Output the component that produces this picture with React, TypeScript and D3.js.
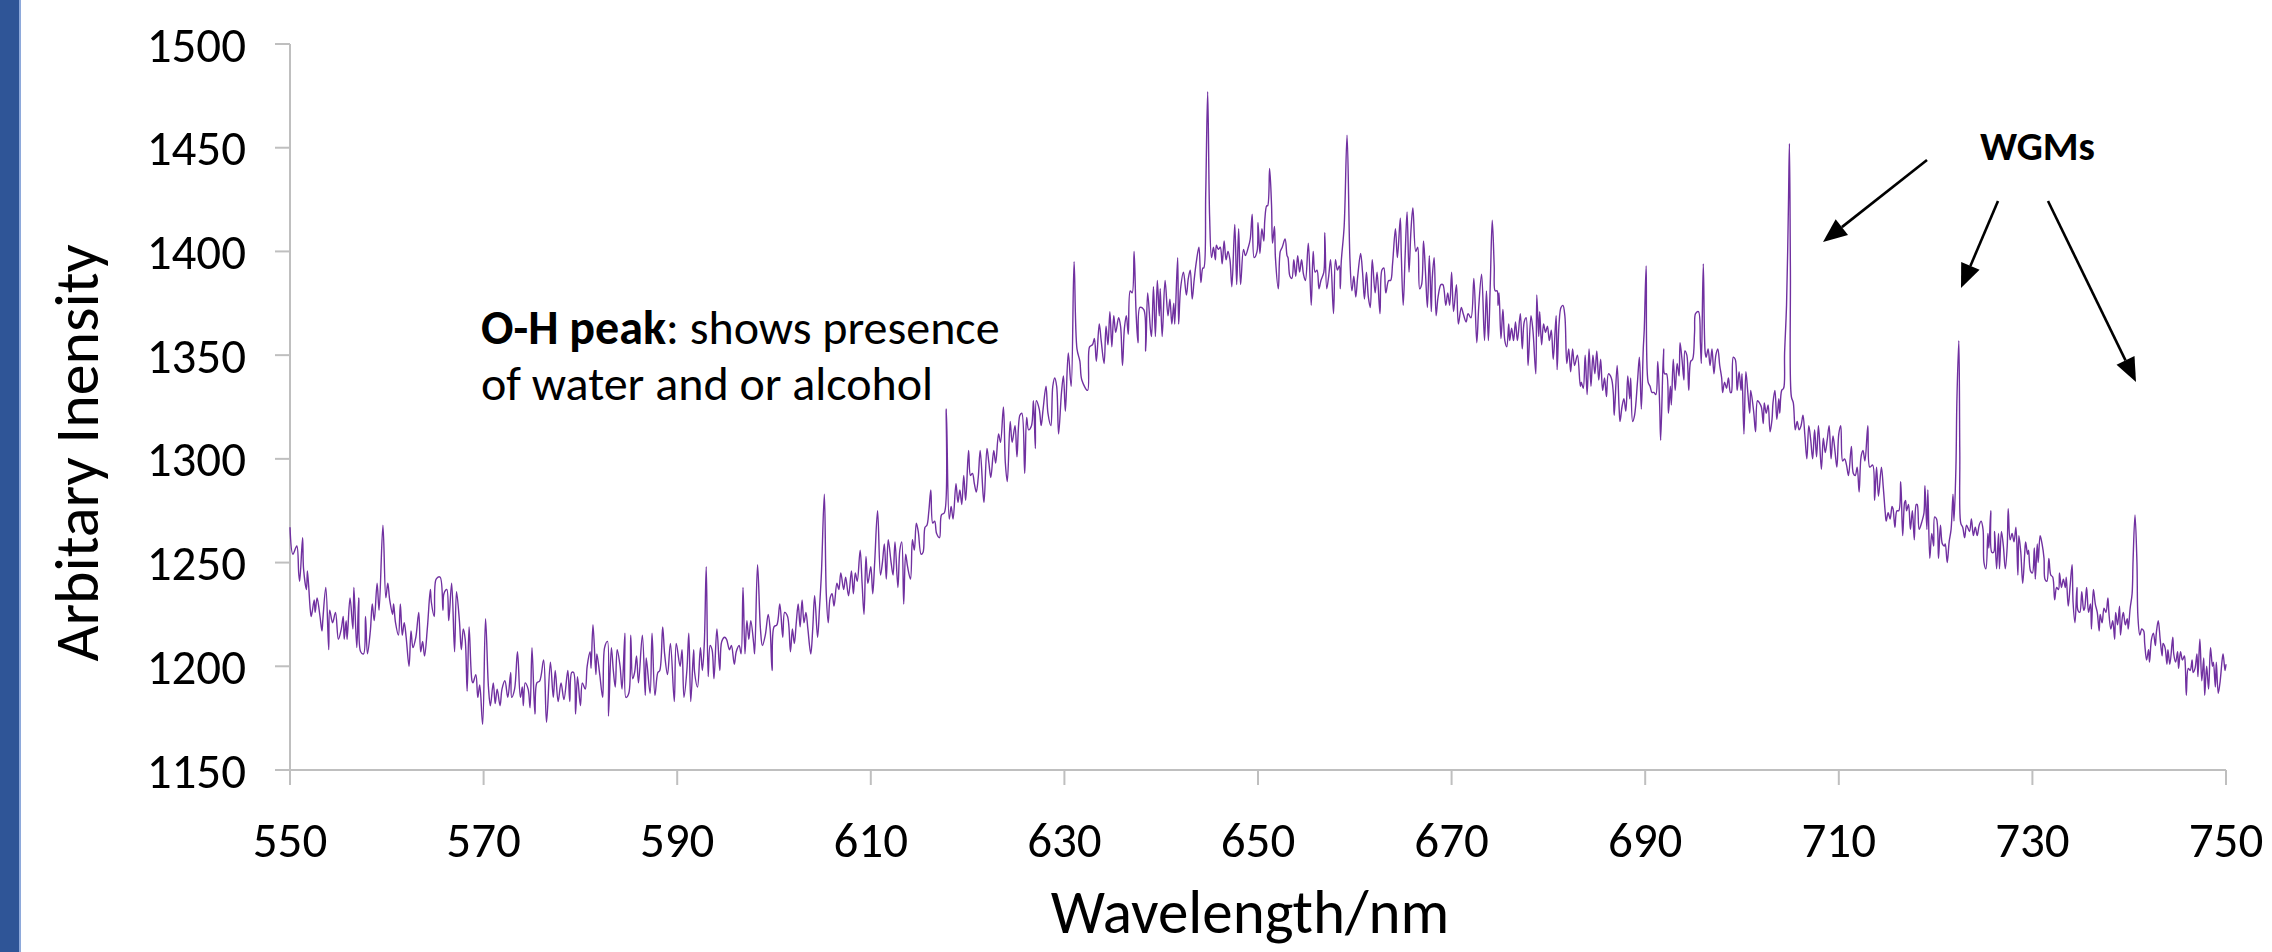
import React from 'react';
import * as d3 from 'd3';

// spectrum, [wavelength nm, intensity]
const band550: [number, number][] = [
  [550.0,1267],[550.3,1254],[550.7,1258],[550.9,1245],[551.0,1241],[551.3,1262],[551.4,1247],[551.7,1237],[551.8,1246],[552.1,1227],
  [552.2,1224],[552.5,1232],[552.6,1226],[552.8,1233],[553.1,1224],[553.3,1217],[553.4,1223],[553.7,1238],[554.0,1208],[554.1,1227],
  [554.4,1221],[554.7,1226],[555.0,1213],[555.3,1218],[555.5,1224],[555.6,1213],[555.8,1222],[555.9,1213],[556.2,1233],[556.5,1218],
  [556.6,1238],[556.9,1209],[557.1,1233],[557.3,1207],[557.6,1206],[557.8,1224],[558.0,1206],[558.3,1217],[558.5,1230],[558.7,1222],
  [559.0,1240],[559.2,1227],[559.6,1268],[559.9,1233],[560.1,1240],[560.3,1232],[560.6,1225],[560.7,1230],[560.9,1221],[561.2,1215],
  [561.4,1230],[561.6,1215],[561.8,1221],[562.0,1214],[562.3,1200],[562.5,1217],[562.7,1209],[563.0,1214],[563.3,1226],[563.5,1207],
  [563.7,1212],[563.9,1205],[564.2,1219],[564.5,1237],[564.6,1231],[564.9,1224],[565.1,1242],[565.5,1243],[565.8,1227],[565.9,1235],
  [566.2,1237],[566.4,1222],[566.7,1240],[567.0,1207],[567.2,1236],[567.5,1222],[567.7,1208],[567.9,1218],[568.1,1213],[568.3,1188],
  [568.5,1219],[568.8,1193],[568.9,1192],[569.2,1196],[569.4,1185],[569.6,1191],[569.9,1172],[570.2,1223],[570.5,1190],[570.7,1181],
  [571.0,1192],[571.2,1182],[571.4,1189],[571.7,1181],[571.9,1189],[572.2,1193],[572.5,1185],[572.8,1197],[572.9,1185],[573.2,1189],
  [573.5,1207],[573.8,1185],[574.0,1190],[574.1,1181],[574.3,1192],[574.6,1189],[574.8,1180],[575.0,1209],[575.3,1177],[575.5,1192],
  [575.8,1193],[576.2,1203],[576.5,1173],[576.9,1202],[577.2,1185],[577.4,1198],[577.7,1183],[578.0,1192],[578.3,1184],[578.7,1198],
  [578.9,1183],[579.1,1197],[579.3,1197],[579.5,1177],[579.7,1195],[580.0,1181],[580.2,1192],[580.5,1189],[580.7,1200],[581.0,1207],
  [581.1,1199],[581.3,1220],[581.6,1196],[581.7,1206],[582.0,1196],[582.3,1185],[582.5,1209],[582.8,1212],[582.9,1176],[583.2,1209],
  [583.4,1198],[583.6,1190],[583.8,1208],[584.1,1200],[584.3,1189],[584.6,1216],[584.7,1185],[585.0,1187],[585.2,1215],[585.4,1194],
  [585.6,1197],[585.8,1205],[586.0,1192],[586.4,1215],[586.7,1186],[586.8,1204],[587.2,1187],[587.4,1216],[587.7,1186],[588.0,1197],
  [588.2,1198],[588.5,1219],[588.7,1206],[589.0,1196],[589.3,1211],[589.7,1183],[589.9,1211],[590.3,1200],[590.5,1208],[590.7,1185],
];

const band591: [number, number][] = [
  [591.0,1198],[591.2,1216],[591.4,1183],[591.7,1208],[591.8,1197],[592.1,1190],[592.4,1209],[592.6,1198],[592.8,1211],[593.0,1248],
  [593.2,1195],[593.4,1210],[593.6,1208],[593.8,1194],[594.1,1218],[594.4,1198],[594.6,1212],[594.9,1214],[595.1,1213],[595.4,1208],
  [595.6,1210],[595.9,1201],[596.1,1207],[596.4,1210],[596.6,1206],[596.8,1238],[597.0,1206],[597.2,1222],[597.4,1213],[597.6,1222],
  [597.9,1211],[598.0,1206],[598.3,1249],[598.6,1218],[598.8,1210],[599.1,1215],[599.4,1225],[599.6,1218],[599.8,1198],[600.0,1219],
  [600.3,1220],[600.6,1230],[600.9,1214],[601.1,1226],[601.4,1224],[601.7,1207],[601.9,1218],[602.1,1211],[602.3,1221],[602.5,1230],
  [602.7,1219],[602.9,1232],[603.1,1221],[603.3,1226],[603.5,1218],[603.8,1206],[604.0,1218],[604.2,1234],[604.5,1214],[604.7,1228],
  [604.9,1245],[605.2,1283],[605.4,1235],[605.6,1221],[605.8,1233],[606.0,1235],[606.2,1229],[606.5,1240],[606.7,1237],[606.9,1245],
  [607.2,1237],[607.4,1243],[607.7,1234],[608.0,1246],[608.2,1235],[608.4,1245],[608.6,1241],[608.9,1256],[609.1,1240],[609.3,1225],
  [609.5,1253],[609.7,1240],[610.0,1248],[610.2,1235],[610.4,1250],[610.7,1275],[611.0,1244],[611.2,1250],[611.4,1259],[611.6,1242],
  [611.8,1261],[612.1,1250],[612.3,1244],[612.5,1260],[612.8,1238],[613.0,1256],[613.2,1260],[613.4,1230],[613.6,1254],[613.8,1248],
  [614.1,1242],[614.3,1261],[614.5,1256],[614.7,1269],[614.9,1265],[615.2,1254],[615.4,1255],[615.6,1267],[615.8,1268],[616.0,1275],
  [616.2,1285],[616.4,1269],[616.6,1270],[616.8,1264],[617.1,1262],[617.3,1273],[617.6,1274],[617.8,1324],[618.1,1271],[618.3,1277],
  [618.5,1271],[618.8,1288],[619.0,1279],[619.2,1285],[619.4,1278],[619.6,1292],[619.8,1280],[620.1,1304],[620.3,1292],[620.5,1293],
  [620.7,1288],[620.9,1284],[621.1,1291],[621.3,1304],[621.6,1283],[621.7,1279],[622.0,1305],[622.2,1298],[622.4,1291],[622.7,1304],
  [622.9,1298],[623.2,1312],[623.4,1308],[623.7,1325],[623.9,1298],[624.1,1289],[624.4,1318],[624.6,1308],[624.9,1316],[625.1,1301],
  [625.4,1321],[625.6,1322],[625.9,1293],[626.1,1320],[626.3,1314],[626.6,1316],[626.8,1328],[627.0,1305],[627.1,1328],[627.4,1324],
  [627.6,1316],[627.8,1324],[628.1,1335],[628.3,1322],[628.6,1316],[628.8,1335],[629.0,1339],[629.2,1335],[629.4,1312],[629.7,1332],
  [629.9,1340],[630.1,1323],[630.4,1351],[630.7,1335],[631.0,1395],[631.3,1353],[631.6,1347],[631.8,1338],
];

const band632: [number, number][] = [
  [632.4,1333],[632.6,1354],[632.9,1355],[633.1,1358],[633.3,1347],[633.6,1365],[633.8,1357],[634.1,1346],[634.3,1364],[634.5,1355],
  [634.7,1371],[634.9,1354],[635.1,1369],[635.3,1361],[635.6,1368],[635.8,1364],[636.0,1345],[636.2,1363],[636.4,1369],[636.6,1360],
  [636.8,1381],[637.0,1380],[637.2,1400],[637.4,1371],[637.6,1356],[637.8,1373],[638.2,1372],[638.4,1352],[638.6,1380],[638.9,1362],
  [639.0,1359],[639.2,1383],[639.4,1359],[639.6,1386],[639.8,1369],[639.9,1382],[640.1,1359],[640.4,1386],[640.7,1369],[640.9,1377],
  [641.1,1365],[641.3,1375],[641.4,1365],[641.7,1397],[641.8,1365],[642.0,1382],[642.3,1390],[642.6,1379],[642.8,1387],[643.0,1391],
  [643.2,1377],[643.4,1386],[643.6,1394],[643.9,1402],[644.1,1385],[644.3,1392],[644.4,1392],[644.6,1428],[644.8,1477],[645.0,1417],
  [645.2,1397],[645.4,1402],[645.6,1396],[645.7,1403],[645.9,1401],[646.1,1402],[646.3,1394],[646.5,1405],[646.7,1396],[646.9,1400],
  [647.1,1396],[647.3,1383],[647.6,1413],[647.8,1384],[648.0,1411],[648.2,1384],[648.5,1401],[648.7,1398],[649.0,1402],[649.2,1406],
  [649.4,1418],[649.6,1397],[649.9,1400],[650.0,1414],[650.2,1399],[650.4,1411],[650.6,1405],[650.7,1415],[650.9,1422],[651.0,1422],
  [651.2,1440],[651.4,1422],[651.5,1404],[651.7,1412],[651.8,1397],[652.1,1382],[652.3,1400],[652.5,1402],[652.8,1406],[653.0,1398],
  [653.1,1397],[653.3,1388],[653.5,1387],[653.7,1396],[653.9,1388],[654.1,1398],[654.3,1390],[654.5,1396],[654.7,1389],[654.9,1386],
  [655.2,1404],[655.5,1374],[655.7,1400],[655.9,1390],[656.1,1391],[656.3,1382],[656.5,1386],[656.8,1390],[656.9,1409],[657.1,1382],
  [657.3,1388],[657.5,1396],[657.8,1370],[658.0,1396],[658.2,1391],[658.4,1393],[658.5,1382],[658.6,1395],[658.9,1412],[659.2,1456],
  [659.5,1396],[659.7,1381],[659.9,1388],[660.1,1378],[660.3,1388],[660.6,1399],[660.8,1390],[661.0,1377],[661.2,1390],[661.4,1378],
  [661.6,1373],[661.8,1396],[662.1,1380],[662.3,1390],[662.6,1370],[662.8,1391],[663.0,1392],[663.2,1380],[663.5,1386],[663.7,1386],
  [663.9,1394],[664.2,1411],[664.4,1397],[664.7,1416],[664.8,1399],[665.0,1374],[665.2,1398],[665.4,1419],[665.6,1390],[665.8,1410],
  [666.0,1421],[666.3,1400],[666.5,1402],[666.7,1382],[666.9,1384],[667.1,1405],[667.3,1390],[667.5,1373],[667.7,1398],[667.9,1371],
  [668.0,1387],[668.2,1397],[668.4,1369],[668.6,1378],[668.9,1384],[669.1,1384],[669.4,1374],[669.6,1380],[669.8,1374],[670.0,1390],
  [670.2,1371],[670.5,1384],[670.7,1365],[671.0,1373],[671.2,1370],[671.5,1366],[671.7,1370],[672.0,1368],[672.3,1387],[672.6,1356],
  [672.8,1373],[673.1,1389],[673.4,1357],
];

const band674: [number, number][] = [
  [673.6,1381],[673.8,1357],[674.0,1385],[674.2,1415],[674.4,1393],[674.5,1381],[674.7,1381],[674.8,1374],[674.9,1380],[675.1,1358],
  [675.3,1372],[675.5,1357],[675.7,1354],[675.9,1365],[676.0,1357],[676.2,1363],[676.4,1357],[676.6,1366],[676.8,1357],[677.1,1370],
  [677.3,1353],[677.5,1366],[677.7,1368],[677.9,1345],[678.2,1369],[678.4,1362],[678.7,1341],[678.8,1379],[679.0,1359],[679.1,1371],
  [679.3,1355],[679.5,1365],[679.7,1361],[679.9,1364],[680.1,1357],[680.3,1362],[680.5,1348],[680.8,1369],[680.9,1343],[681.1,1365],
  [681.3,1373],[681.5,1374],[681.7,1369],[681.9,1346],[682.1,1353],[682.3,1342],[682.5,1353],[682.7,1345],[683.0,1350],[683.3,1335],
  [683.4,1337],[683.6,1334],[683.8,1350],[684.0,1331],[684.2,1353],[684.4,1335],[684.6,1350],[684.8,1341],[685.0,1352],[685.2,1338],
  [685.4,1348],[685.6,1333],[685.8,1339],[686.0,1330],[686.2,1341],[686.5,1339],[686.7,1332],[686.8,1321],[687.1,1345],[687.3,1325],
  [687.4,1318],[687.6,1325],[687.8,1329],[688.0,1323],[688.2,1340],[688.4,1329],[688.5,1339],[688.7,1318],[688.9,1321],[689.2,1337],
  [689.4,1349],[689.6,1324],[689.8,1353],[689.9,1362],[690.1,1393],[690.3,1337],[690.5,1335],[690.7,1332],[690.9,1332],[691.1,1331],
  [691.3,1347],[691.5,1325],[691.6,1309],[691.9,1353],[692.0,1341],[692.2,1341],[692.4,1322],[692.6,1335],[692.7,1326],[692.9,1348],
  [693.1,1333],[693.3,1346],[693.5,1340],[693.6,1356],[693.8,1348],[694.0,1338],[694.1,1352],[694.3,1350],[694.5,1333],[694.7,1347],
  [694.9,1348],[695.1,1361],[695.2,1370],[695.5,1371],[695.7,1356],[695.8,1346],[696.0,1394],[696.2,1351],[696.3,1349],[696.5,1353],
  [696.7,1345],[696.9,1353],[697.1,1341],[697.3,1350],[697.5,1353],[697.7,1345],[697.9,1339],[698.0,1332],[698.2,1337],[698.4,1334],
  [698.6,1339],[698.8,1332],[698.9,1332],[699.1,1349],[699.3,1348],[699.5,1333],[699.7,1342],[699.9,1333],[700.0,1341],[700.2,1312],
  [700.4,1342],[700.6,1332],[700.8,1322],[700.9,1333],[701.2,1323],[701.4,1313],[701.6,1328],[701.8,1327],[702.0,1325],[702.2,1317],
  [702.3,1327],[702.5,1322],[702.7,1326],[702.9,1313],[703.1,1319],[703.2,1327],[703.4,1333],[703.6,1319],[703.8,1329],[703.9,1322],
  [704.1,1333],[704.3,1334],[704.4,1351],[704.6,1374],[704.8,1423],[704.9,1452],[705.0,1391],[705.1,1330],[705.3,1327],[705.5,1314],
  [705.7,1318],[705.9,1314],[706.1,1316],[706.3,1321],[706.5,1311],[706.7,1300],[706.9,1316],[707.1,1309],[707.3,1300],[707.5,1314],
  [707.7,1301],[707.9,1316],[708.2,1295],[708.4,1310],[708.6,1303],[708.8,1309],[709.0,1316],[709.2,1300],[709.4,1311],[709.6,1304],
  [709.8,1296],[710.0,1312],[710.2,1316],[710.4,1299],[710.6,1300],[710.8,1297],[711.0,1292],[711.3,1306],[711.5,1293],[711.7,1292],
  [711.9,1296],[712.1,1284],[712.3,1301],[712.5,1304],[712.7,1299],[713.0,1316],[713.2,1296],[713.5,1297],[713.7,1280],[713.9,1296],
  [714.1,1282],[714.4,1296],[714.6,1286],
];

const band715: [number, number][] = [
  [714.8,1274],[714.9,1270],[715.1,1274],[715.3,1271],[715.5,1277],[715.6,1276],[715.8,1267],[716.0,1275],[716.2,1275],[716.4,1289],
  [716.6,1263],[716.8,1279],[716.9,1280],[717.0,1275],[717.2,1278],[717.4,1266],[717.6,1275],[717.8,1261],[718.0,1278],[718.1,1278],
  [718.3,1266],[718.6,1270],[718.8,1274],[718.9,1287],[719.1,1266],[719.2,1285],[719.4,1252],[719.6,1264],[719.8,1258],[719.9,1272],
  [720.1,1271],[720.3,1252],[720.5,1268],[720.7,1259],[720.9,1258],[721.0,1259],[721.2,1250],[721.4,1260],[721.6,1266],[721.8,1283],
  [721.9,1270],[722.1,1296],[722.2,1328],[722.4,1357],[722.5,1303],[722.6,1269],[722.8,1267],[723.0,1262],[723.2,1268],[723.5,1265],
  [723.7,1271],[723.9,1263],[724.1,1267],[724.3,1263],[724.5,1268],[724.7,1270],[724.9,1266],[725.0,1250],[725.2,1247],[725.4,1264],
  [725.5,1257],[725.7,1275],[725.8,1255],[726.0,1255],[726.1,1265],[726.3,1247],[726.5,1264],[726.6,1247],[726.8,1265],[727.0,1258],
  [727.2,1247],[727.4,1258],[727.5,1276],[727.7,1261],[727.9,1264],[728.1,1260],[728.3,1267],[728.5,1244],[728.6,1263],[728.8,1255],
  [729.0,1240],[729.2,1254],[729.3,1260],[729.5,1254],[729.6,1256],[729.8,1246],[730.0,1245],[730.2,1257],[730.3,1242],[730.5,1259],
  [730.6,1250],[730.8,1263],[731.0,1259],[731.2,1252],[731.3,1242],[731.5,1241],[731.7,1252],[731.9,1244],[732.1,1243],[732.3,1232],
  [732.5,1238],[732.7,1237],[732.8,1245],[733.0,1238],[733.2,1242],[733.4,1238],[733.5,1243],[733.7,1229],[733.9,1239],[734.1,1249],
  [734.2,1231],[734.4,1221],[734.6,1238],[734.7,1227],[734.9,1226],[735.1,1236],[735.3,1227],[735.4,1228],[735.6,1238],[735.8,1226],
  [736.0,1230],[736.1,1218],[736.3,1237],[736.5,1230],[736.7,1226],[736.9,1217],[737.0,1225],[737.2,1221],[737.4,1228],[737.6,1226],
  [737.8,1233],[737.9,1226],[738.1,1218],[738.3,1222],[738.5,1213],[738.6,1226],[738.8,1220],[739.0,1229],[739.1,1215],[739.3,1224],
  [739.4,1226],[739.6,1220],[739.8,1223],[739.9,1218],[740.1,1228],[740.3,1235],[740.4,1251],[740.6,1273],[740.8,1250],[740.9,1224],
  [741.1,1215],[741.3,1218],[741.5,1217],[741.6,1211],[741.8,1203],[742.0,1208],[742.1,1202],[742.3,1213],[742.5,1216],[742.7,1210],
  [742.8,1216],[743.0,1222],[743.2,1213],[743.4,1205],[743.5,1211],[743.7,1209],[743.9,1201],[744.0,1208],[744.2,1201],[744.5,1214],
  [744.6,1206],[744.8,1202],[745.0,1207],[745.1,1199],[745.3,1207],[745.5,1203],[745.7,1205],[745.8,1200],[745.9,1186],[746.1,1199],
  [746.3,1198],[746.5,1203],[746.6,1197],[746.8,1199],[747.0,1206],[747.1,1195],[747.3,1213],[747.5,1193],[747.7,1204],[747.8,1186],
  [748.0,1200],[748.2,1189],[748.4,1209],[748.6,1200],[748.7,1202],[748.9,1190],[749.0,1202],[749.2,1187],[749.4,1193],[749.6,1203],
  [749.7,1206],[749.9,1198],[750.0,1201],
];

const xTicks = [550, 570, 590, 610, 630, 650, 670, 690, 710, 730, 750];
const yTicks = [1150, 1200, 1250, 1300, 1350, 1400, 1450, 1500];

const xTitle = 'Wavelength/nm';
const yTitle = 'Arbitary Inensity';
const noteBold = 'O-H peak';
const noteRest = ': shows presence';
const noteLine2 = 'of water and or alcohol';
const wgmLabel = 'WGMs';

const W = 2272;
const H = 952;
const FONT = 'Calibri, Carlito, Lato, sans-serif';
const AXIS = '#bfbfbf';

const arrows = [
  { x1: 1927, y1: 160, x2: 1823, y2: 242 },
  { x1: 1998, y1: 201, x2: 1961, y2: 288 },
  { x1: 2048, y1: 201, x2: 2136, y2: 382 },
];

function Arrow({ x1, y1, x2, y2 }: { x1: number; y1: number; x2: number; y2: number }) {
  const ang = Math.atan2(y2 - y1, x2 - x1);
  const len = 24, half = 10;
  const bx = x2 - len * Math.cos(ang), by = y2 - len * Math.sin(ang);
  const px = -Math.sin(ang) * half, py = Math.cos(ang) * half;
  return (
    <g>
      <line x1={x1} y1={y1} x2={bx} y2={by} stroke="#000" strokeWidth={2.6} />
      <polygon points={`${x2},${y2} ${bx + px},${by + py} ${bx - px},${by - py}`} fill="#000" />
    </g>
  );
}

export default function App() {
  const data = [...band550, ...band591, ...band632, ...band674, ...band715];

  const x = d3.scaleLinear().domain([550, 750]).range([290, 2226]);
  const y = d3.scaleLinear().domain([1150, 1500]).range([770, 44]);

  const line = d3
    .line<[number, number]>()
    .x(d => x(d[0]))
    .y(d => y(d[1]))
    .curve(d3.curveCatmullRom.alpha(0.5));

  return (
    <svg
      width={W}
      height={H}
      style={{ position: 'absolute', left: 0, top: 0, display: 'block', background: '#fff' }}
      fontFamily={FONT}
    >
      <rect x={0} y={0} width={19} height={H} fill="#2f5597" />
      <rect x={19} y={0} width={2} height={H} fill="#8ea9db" />

      {/* axes */}
      <line x1={x(550)} x2={x(550)} y1={y(1500)} y2={y(1150)} stroke={AXIS} strokeWidth={2} />
      <line x1={x(550) - 15} x2={x(750)} y1={y(1150)} y2={y(1150)} stroke={AXIS} strokeWidth={2} />
      {yTicks.map(t => (
        <g key={'y' + t}>
          <line x1={x(550) - 15} x2={x(550)} y1={y(t)} y2={y(t)} stroke={AXIS} strokeWidth={2} />
          <text x={246} y={y(t)} dy="0.36em" textAnchor="end" fontSize={49} fill="#000">{t}</text>
        </g>
      ))}
      {xTicks.map(t => (
        <g key={'x' + t}>
          <line x1={x(t)} x2={x(t)} y1={y(1150)} y2={y(1150) + 15} stroke={AXIS} strokeWidth={2} />
          <text x={x(t)} y={857} textAnchor="middle" fontSize={49} fill="#000">{t}</text>
        </g>
      ))}

      <path d={line(data) ?? ''} fill="none" stroke="#7030a0" strokeWidth={1.4} strokeLinejoin="round" />

      <text x={1250} y={933} textAnchor="middle" fontSize={61} fill="#000">{xTitle}</text>
      <text transform="translate(98,453) rotate(-90)" textAnchor="middle" fontSize={62} fill="#000">{yTitle}</text>

      <text x={481} y={344} fontSize={48} fill="#000">
        <tspan fontWeight="bold">{noteBold}</tspan>
        <tspan>{noteRest}</tspan>
      </text>
      <text x={481} y={400} fontSize={48} fill="#000">{noteLine2}</text>

      <text x={1980} y={160} fontSize={41} fontWeight="bold" fill="#000">{wgmLabel}</text>
      {arrows.map((a, i) => <Arrow key={i} {...a} />)}
    </svg>
  );
}
